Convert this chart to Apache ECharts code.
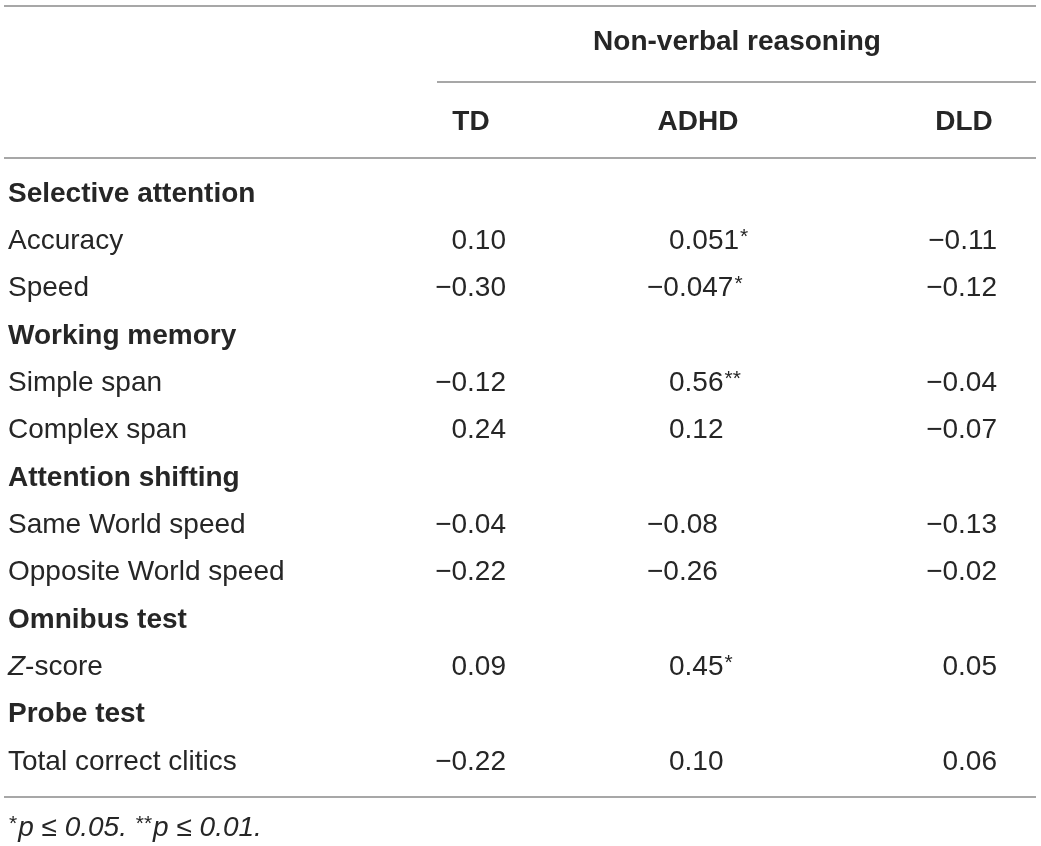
<!DOCTYPE html>
<html>
<head>
<meta charset="utf-8">
<script src="https://cdn.jsdelivr.net/npm/echarts@6/dist/echarts.min.js"></script>
<style>
  html, body { margin: 0; padding: 0; background: #fff; }
  #chart { width: 1041px; height: 846px; }
</style>
</head>
<body>
<div id="chart"></div>
<script>
// table contents
var spanTitle = 'Non-verbal reasoning';
var groups = ['TD', 'ADHD', 'DLD'];
var sections = ['Selective attention', 'Working memory', 'Attention shifting', 'Omnibus test', 'Probe test'];
var rowNames = ['Accuracy', 'Speed', 'Simple span', 'Complex span', 'Same World speed', 'Opposite World speed', '{i|Z}-score', 'Total correct clitics'];
var rowSection = [0, 0, 1, 1, 2, 2, 3, 4];
var tdValues = ['0.10', '−0.30', '−0.12', '0.24', '−0.04', '−0.22', '0.09', '−0.22'];
var adhdValues = ['0.051', '−0.047', '0.56', '0.12', '−0.08', '−0.26', '0.45', '0.10'];
var adhdSig = ['*', '*', '**', '', '', '', '*', ''];
var dldValues = ['−0.11', '−0.12', '−0.04', '−0.07', '−0.13', '−0.02', '0.05', '0.06'];
var footnote = '{s|*}{i|p ≤ 0.05. }{s|**}{i|p ≤ 0.01.}';

var FONT = '"Liberation Sans", Arial, sans-serif';
var INK = '#262626';
var RULE = '#8a8a8a';
var SIZE = 28;

var rich = {
    i: { fontStyle: 'italic', fontSize: SIZE, fontFamily: FONT, fill: INK },
    s: { fontSize: 21, fontFamily: FONT, fill: INK, padding: [0, 1, 8, 1] }
};

function txt(x, y, text, opts) {
    opts = opts || {};
    return {
        type: 'text',
        x: x,
        y: y,
        silent: true,
        style: {
            text: text,
            fontSize: opts.size || SIZE,
            fontWeight: opts.bold ? 'bold' : 'normal',
            fontStyle: opts.italic ? 'italic' : 'normal',
            fontFamily: FONT,
            fill: INK,
            align: opts.align || 'left',
            verticalAlign: 'middle',
            rich: rich
        }
    };
}

function rule(x1, x2, y) {
    return {
        type: 'line',
        silent: true,
        shape: { x1: x1, y1: y, x2: x2, y2: y },
        style: { stroke: RULE, lineWidth: 1.5 }
    };
}

function getChart() {
    var myChart = echarts.init(document.getElementById('chart'));
    var els = [];

    els.push(rule(4, 1036, 6));
    els.push(txt(737, 42, spanTitle, { bold: true, align: 'center' }));
    els.push(rule(437, 1036, 82));
    var headX = [471, 698, 964];
    groups.forEach(function (g, k) {
        els.push(txt(headX[k], 122, g, { bold: true, align: 'center' }));
    });
    els.push(rule(4, 1036, 158));

    var y0 = 194, step = 47.33;
    var line = 0, last = -1;
    rowNames.forEach(function (name, r) {
        if (rowSection[r] !== last) {
            last = rowSection[r];
            els.push(txt(8, y0 + step * line, sections[last], { bold: true }));
            line++;
        }
        var y = y0 + step * line;
        els.push(txt(8, y, name));
        els.push(txt(506, y, tdValues[r], { align: 'right' }));
        var neg = adhdValues[r].charAt(0) === '−';
        var a = adhdValues[r] + (adhdSig[r] ? '{s|' + adhdSig[r] + '}' : '');
        els.push(txt(neg ? 647 : 669, y, a));
        els.push(txt(997, y, dldValues[r], { align: 'right' }));
        line++;
    });

    els.push(rule(4, 1036, 797));
    els.push(txt(8, 828, footnote, { italic: true }));

    var option = {
        backgroundColor: '#fff',
        animation: false,
        graphic: { elements: els }
    };
    myChart.setOption(option);
}
getChart();
</script>
</body>
</html>
